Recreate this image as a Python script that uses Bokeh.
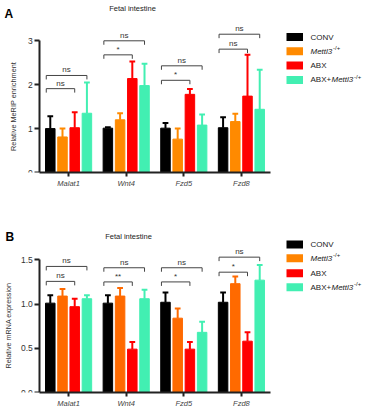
import math
from bokeh.plotting import figure
from bokeh.models import (Range1d, ColumnDataSource, Label, BoxAnnotation,
                          FixedTicker, NumeralTickFormatter)
from bokeh.transform import dodge
from bokeh.layouts import column
from bokeh.embed import file_html
from bokeh.resources import INLINE
from bokeh.core.properties import value

FONT = "Liberation Sans"

genes = ["Malat1", "Wnt4", "Fzd5", "Fzd8"]
groups = ["CONV", "Mettl3-/+", "ABX", "ABX+Mettl3-/+"]

# ---- Panel A: relative MeRIP enrichment (mean, SEM) ----
a_conv = [1.00, 1.01, 1.01, 1.02]
a_conv_sem = [0.28, 0.02, 0.12, 0.24]
a_mettl3 = [0.81, 1.20, 0.76, 1.16]
a_mettl3_sem = [0.19, 0.15, 0.24, 0.18]
a_abx = [1.02, 2.14, 1.78, 1.74]
a_abx_sem = [0.35, 0.39, 0.12, 0.94]
a_abxm = [1.35, 1.98, 1.08, 1.44]
a_abxm_sem = [0.70, 0.50, 0.24, 0.90]
a_inner_y = [1.91, 2.68, 2.10, 2.81]      # CONV vs ABX
a_inner_lab = ["ns", "*", "*", "ns"]
a_outer_y = [2.21, 3.00, 2.43, 3.15]      # CONV vs ABX+Mettl3
a_outer_lab = ["ns", "ns", "ns", "ns"]
a_yticks = [0, 1, 2, 3]

# ---- Panel B: relative mRNA expression (mean, SEM) ----
b_conv = [1.01, 1.01, 1.02, 1.02]
b_conv_sem = [0.09, 0.09, 0.11, 0.11]
b_mettl3 = [1.09, 1.09, 0.84, 1.23]
b_mettl3_sem = [0.08, 0.09, 0.11, 0.08]
b_abx = [0.97, 0.49, 0.49, 0.58]
b_abx_sem = [0.09, 0.08, 0.08, 0.10]
b_abxm = [1.06, 1.06, 0.68, 1.27]
b_abxm_sem = [0.04, 0.10, 0.12, 0.17]
b_inner_y = [1.256, 1.25, 1.25, 1.36]
b_inner_lab = ["ns", "**", "*", "*"]
b_outer_y = [1.425, 1.41, 1.41, 1.53]
b_outer_lab = ["ns", "ns", "ns", "ns"]
b_yticks = [0.0, 0.5, 1.0, 1.5]

COLORS_A = ["#000000", "#FF8A00", "#FF0000", "#42EFB2"]
COLORS_B = ["#000000", "#FF6A00", "#FF0000", "#42EFB2"]
LEG_B = ["#000000", "#FF8400", "#FF0000", "#42EFB2"]

OFFS = [-0.318, -0.106, 0.106, 0.318]
BAR_W = 0.165
CAP = 0.05
AXC = "#222222"

W = 366
H = 205
PX_X = 57.6           # pixels per gene slot
AX_LEFT = 39.3        # pixel position of the y axis inside the figure
X0 = -0.5 - AX_LEFT / PX_X
X1 = X0 + W / PX_X


def make_panel(means, sems, colors, inner_y, inner_lab, outer_y, outer_lab,
               yticks, ytop, px_y, tick_len, b_bottom, fmt=None):
    frame_h = H - b_bottom
    p = figure(width=W, height=H,
               x_range=Range1d(X0, X1),
               y_range=Range1d(0, frame_h / px_y),
               output_backend="svg", toolbar_location=None,
               min_border_left=0, min_border_right=0,
               min_border_top=0, min_border_bottom=b_bottom)
    p.xgrid.visible = False
    p.ygrid.visible = False
    p.outline_line_color = None
    xi = list(range(len(genes)))

    for k in range(4):
        src = ColumnDataSource(dict(
            xi=xi, m=means[k],
            hi=[m + s for m, s in zip(means[k], sems[k])]))
        xc = dodge("xi", OFFS[k])
        p.segment(x0=xc, y0="m", x1=xc, y1="hi", line_color=colors[k],
                  line_width=2, source=src)
        p.segment(x0=dodge("xi", OFFS[k] - CAP), y0="hi",
                  x1=dodge("xi", OFFS[k] + CAP), y1="hi",
                  line_color=colors[k], line_width=2, source=src)
        p.vbar(x=xc, top="m", width=BAR_W, fill_color=colors[k],
               line_color=colors[k], line_width=1, source=src)

    for ys, labs, k in ((inner_y, inner_lab, 2), (outer_y, outer_lab, 3)):
        xl = OFFS[0] - 0.07
        xr = OFFS[k]
        src = ColumnDataSource(dict(xi=xi, y=ys,
                                    yb=[v - tick_len for v in ys], lab=labs))
        dl = dodge("xi", xl)
        dr = dodge("xi", xr)
        for a0, b0, a1, b1 in ((dl, "y", dr, "y"), (dl, "yb", dl, "y"),
                               (dr, "yb", dr, "y")):
            p.segment(x0=a0, y0=b0, x1=a1, y1=b1, line_color="#444444",
                      line_width=1, source=src)
        p.text(x=dodge("xi", (xl + xr) / 2), y="y",
               text="lab", text_align="center", text_baseline="bottom",
               y_offset=-1, text_font=value(FONT), text_font_size="8px",
               text_color="#333333", source=src)

    ya = p.yaxis[0]
    ya.fixed_location = -0.5
    ya.ticker = FixedTicker(ticks=yticks)
    if fmt:
        ya.formatter = NumeralTickFormatter(format=fmt)
    ya.bounds = (0, ytop)
    ya.axis_line_width = 2
    ya.axis_line_color = AXC
    ya.major_tick_line_width = 2
    ya.major_tick_line_color = AXC
    ya.major_tick_out = 5
    ya.major_tick_in = 0
    ya.minor_tick_line_color = None
    ya.major_label_text_font = FONT
    ya.major_label_text_font_size = "8.5px"
    ya.major_label_text_color = "#333333"
    ya.major_label_standoff = 2

    xa = p.xaxis[0]
    xa.ticker = FixedTicker(ticks=xi)
    xa.major_label_overrides = {i: g for i, g in zip(xi, genes)}
    xa.bounds = (-0.5, len(genes) - 0.5)
    xa.axis_line_width = 2
    xa.axis_line_color = AXC
    xa.major_tick_line_width = 2
    xa.major_tick_line_color = AXC
    xa.major_tick_out = 4
    xa.major_tick_in = 0
    xa.minor_tick_line_color = None
    xa.major_label_text_font = FONT
    xa.major_label_text_font_size = "7.5px"
    xa.major_label_text_font_style = "italic"
    xa.major_label_text_color = "#444444"
    xa.major_label_standoff = 2
    return p


def add_text(p, sx, sy, text, size, style="normal", color="#222222",
             align="left", angle=0.0):
    p.add_layout(Label(x=sx, y=sy, x_units="screen", y_units="screen",
                       text=text, text_font=FONT, text_font_size=size,
                       text_font_style=style, text_color=color,
                       text_align=align, text_baseline="middle",
                       angle=angle))


def add_legend(p, rows_sy, colors, sx_box, sx_text):
    for k in range(4):
        sy = rows_sy[k]
        p.add_layout(BoxAnnotation(left=sx_box, right=sx_box + 16.5,
                                   bottom=sy - 4, top=sy + 4,
                                   left_units="screen", right_units="screen",
                                   top_units="screen", bottom_units="screen",
                                   fill_color=colors[k], fill_alpha=1,
                                   line_color=None, level="overlay"))
    fs = "8px"
    add_text(p, sx_text, rows_sy[0], "CONV", fs)
    add_text(p, sx_text, rows_sy[1], "Mettl3", fs, "italic")
    add_text(p, sx_text + 22.5, rows_sy[1] + 3, "-/+", "6px")
    add_text(p, sx_text, rows_sy[2], "ABX", fs)
    add_text(p, sx_text, rows_sy[3], "ABX+", fs)
    add_text(p, sx_text + 21, rows_sy[3], "Mettl3", fs, "italic")
    add_text(p, sx_text + 43.5, rows_sy[3] + 3, "-/+", "6px")


pa = make_panel([a_conv, a_mettl3, a_abx, a_abxm],
                [a_conv_sem, a_mettl3_sem, a_abx_sem, a_abxm_sem],
                COLORS_A, a_inner_y, a_inner_lab, a_outer_y, a_outer_lab,
                a_yticks, 3, 43.9, 0.09, 33)
# frame: left = page x 0, bottom = page y 172
add_text(pa, 132, 164.5, "Fetal intestine", "7.5px", align="center")
add_text(pa, 4, 159, "A", "12px", "bold", "#000000")
add_text(pa, 13, 66, "Relative MeRIP enrichment", "7.3px",
         color="#333333", align="center", angle=math.pi / 2)
add_legend(pa, [135.5, 121.2, 106.9, 92.6], COLORS_A, 286, 310)

pb = make_panel([b_conv, b_mettl3, b_abx, b_abxm],
                [b_conv_sem, b_mettl3_sem, b_abx_sem, b_abxm_sem],
                COLORS_B, b_inner_y, b_inner_lab, b_outer_y, b_outer_lab,
                b_yticks, 1.5, 88.47, 0.045, 18, "0.0")
# frame: left = page x 0, bottom = page y 392
add_text(pb, 128, 156.5, "Fetal intestine", "7.5px", align="center")
add_text(pb, 5, 155.5, "B", "12px", "bold", "#000000")
add_text(pb, 8, 67, "Relative mRNA expression", "7.2px",
         color="#333333", align="center", angle=math.pi / 2)
add_legend(pb, [148, 134.3, 119.3, 105.3], LEG_B, 286, 310)

layout = column(pa, pb, spacing=0)
open("out.html", "w").write(file_html(layout, INLINE))
